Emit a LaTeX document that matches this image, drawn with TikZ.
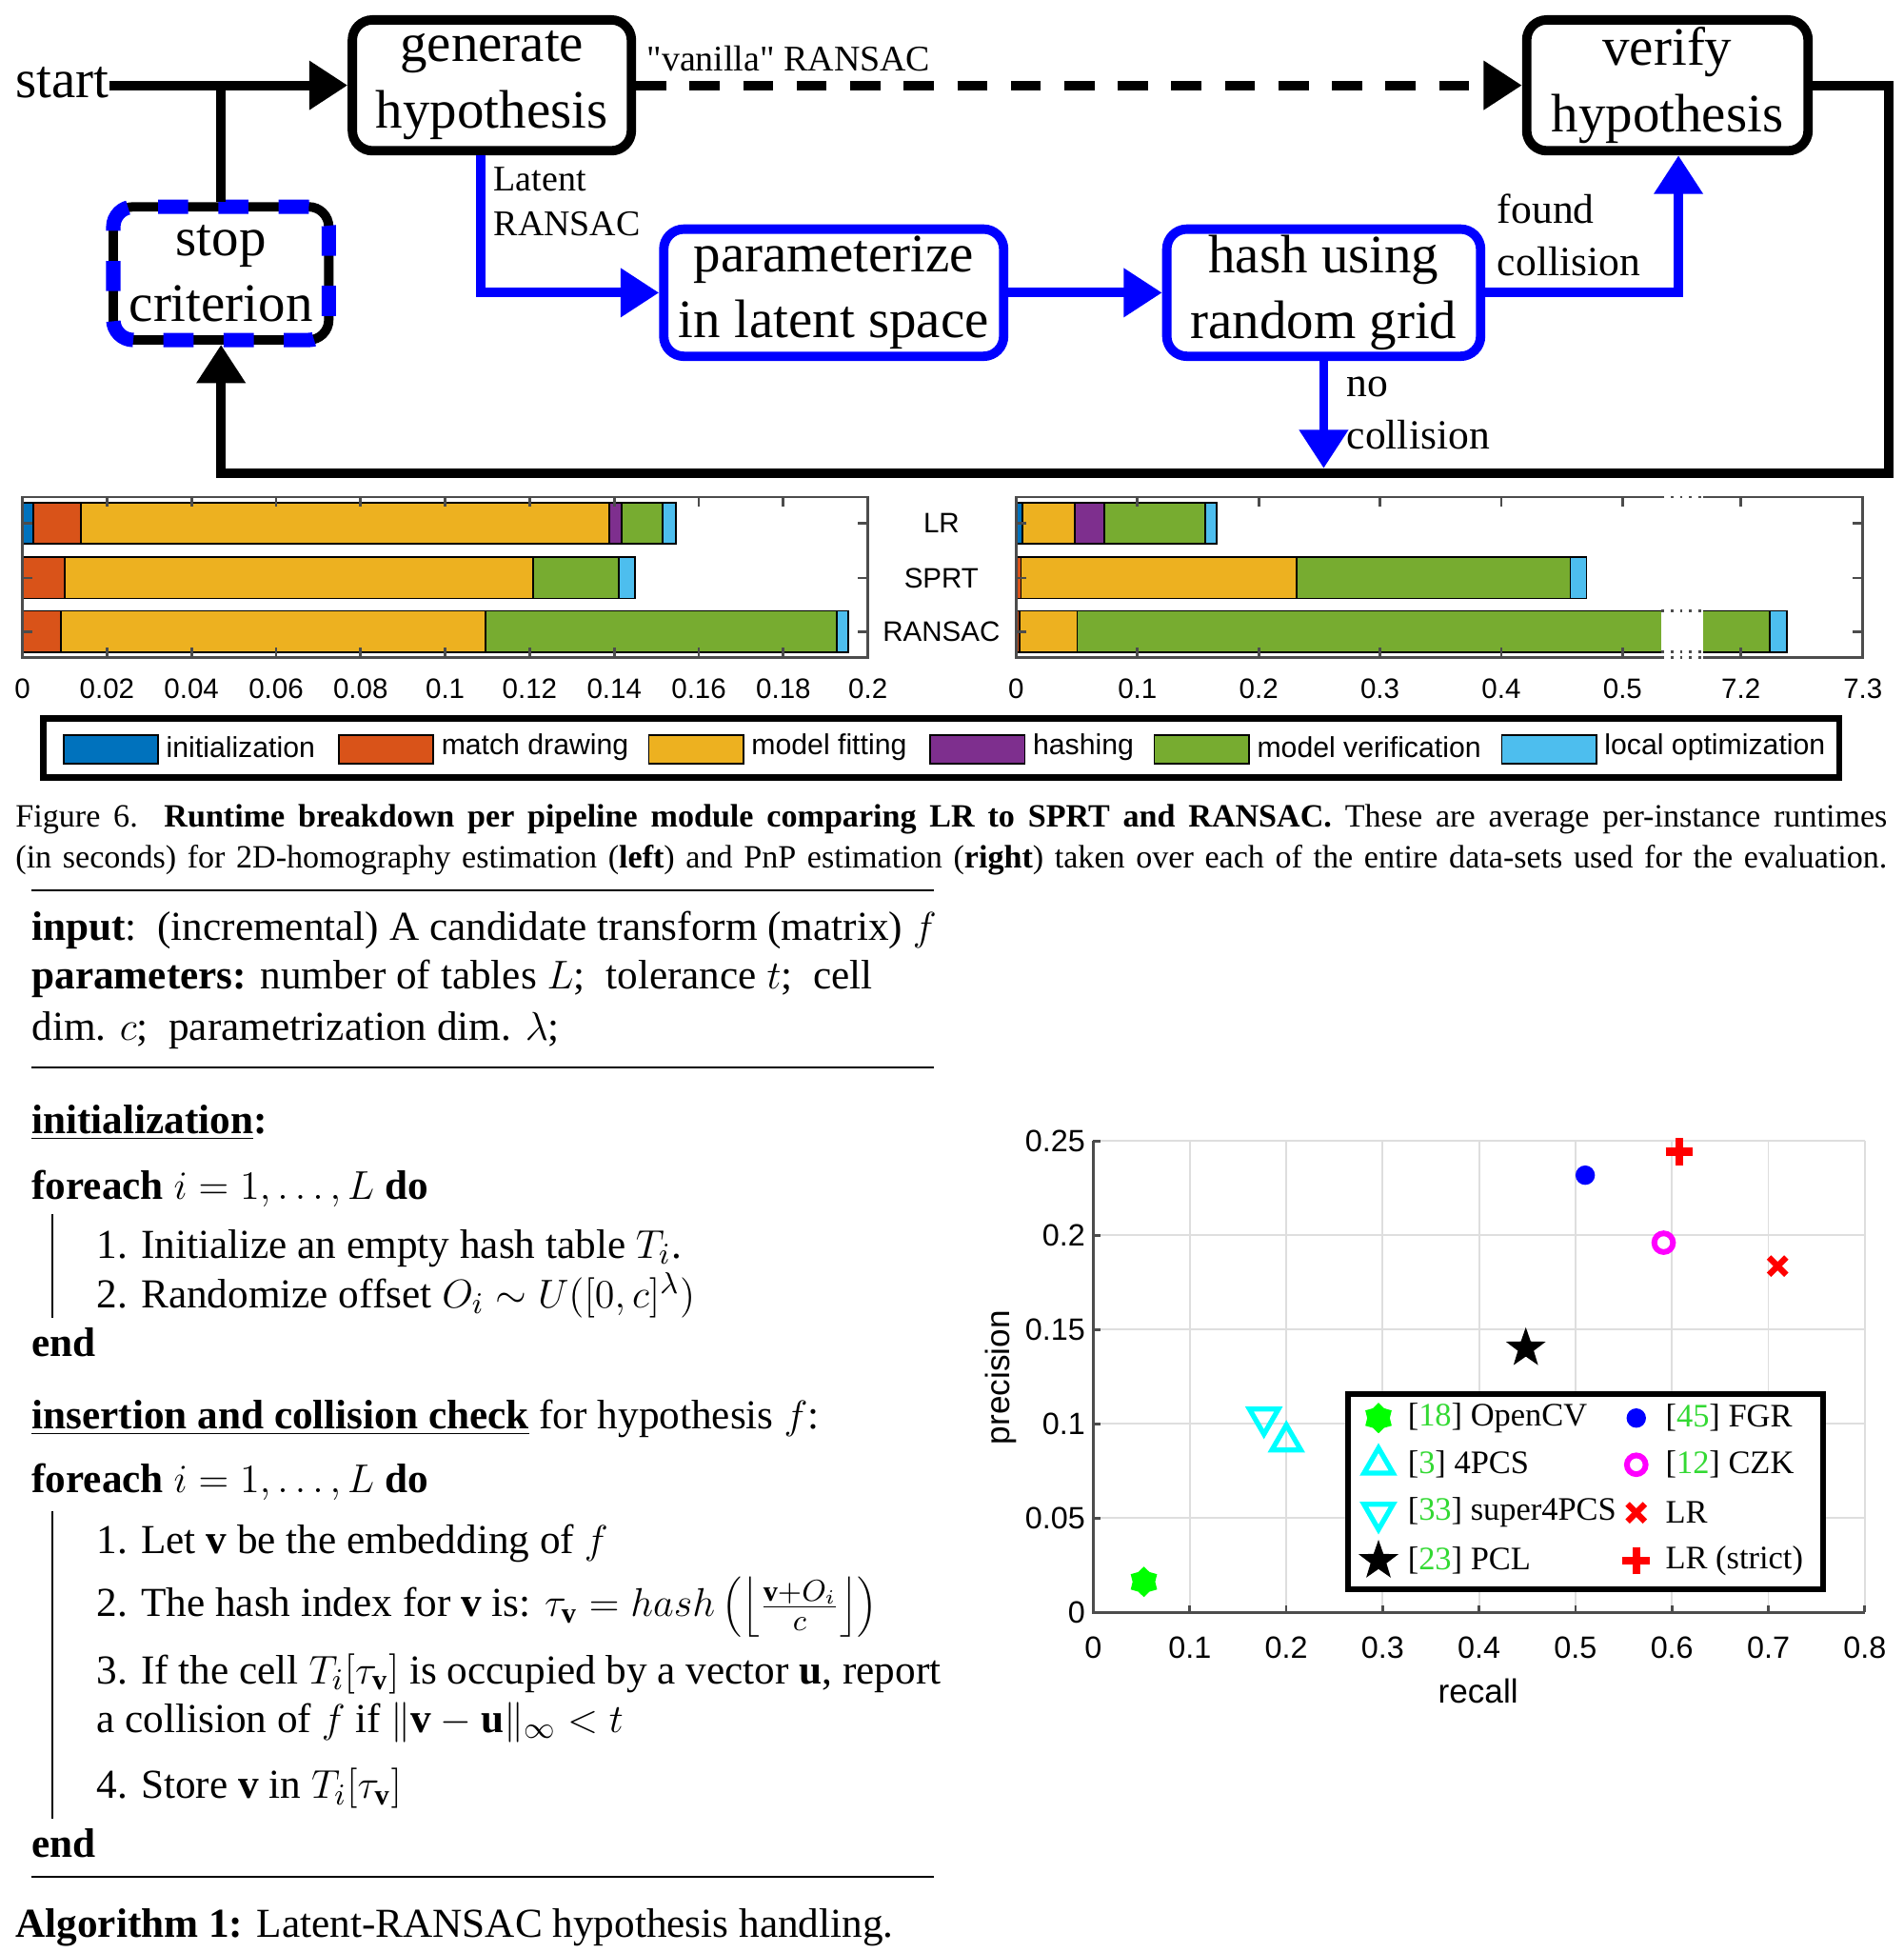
\documentclass[tikz,border=0pt]{standalone}
\usepackage{fontspec}
\setmainfont{Liberation Serif}
\setsansfont{Liberation Sans}
\usepackage{tikz}
\usetikzlibrary{positioning,shapes,calc,arrows.meta}

\definecolor{initblue}{rgb}{0,0.447,0.741}
\definecolor{matchred}{rgb}{0.850,0.325,0.098}
\definecolor{fityellow}{rgb}{0.929,0.694,0.125}
\definecolor{hashpurple}{rgb}{0.494,0.184,0.556}
\definecolor{vergreen}{rgb}{0.466,0.674,0.188}
\definecolor{locyan}{rgb}{0.301,0.745,0.933}
\definecolor{flowblue}{rgb}{0,0,1}
\definecolor{citegreen}{rgb}{0.2,0.85,0.2}
\definecolor{axisgray}{rgb}{0.3,0.3,0.3}
\definecolor{gridgray}{rgb}{0.87,0.87,0.87}
\definecolor{mkgreen}{rgb}{0,1,0}
\definecolor{mkcyan}{rgb}{0,1,1}
\definecolor{mkblue}{rgb}{0,0,1}
\definecolor{mkmagenta}{rgb}{1,0,1}
\definecolor{mkred}{rgb}{1,0,0}

\newcommand\flowfont{\fontsize{16.2pt}{19.7pt}\selectfont}
\newcommand\smlfont{\fontsize{10.8pt}{13.4pt}\selectfont}
\newcommand\edgefont{\fontsize{12.4pt}{15.6pt}\selectfont}
\newcommand\barfont{\sffamily\fontsize{8.4pt}{10pt}\selectfont}
\newcommand\plotfont{\sffamily\fontsize{9.2pt}{11pt}\selectfont}
\newcommand\axfont{\sffamily\fontsize{10pt}{12pt}\selectfont}
\newcommand\keyfont{\fontsize{9.8pt}{12pt}\selectfont}
\newcommand\capfont{\fontsize{9.7pt}{12.3pt}\selectfont}
\newcommand\algfont{\fontsize{12.3pt}{15pt}\selectfont}

\begin{document}
\begin{tikzpicture}[x=0.3722pt,y=-0.3722pt,
    procbox/.style={draw,line width=2.8pt,rounded corners=6pt,align=center,inner sep=0pt,font=\flowfont,fill=white},
    blueproc/.style={procbox,draw=flowblue},
    blackline/.style={line width=2.9pt},
    blueline/.style={line width=2.8pt,draw=flowblue},
    tip/.style={-{Triangle[length=11.5pt,width=14pt]}},
    barseg/.style={draw=black,line width=0.5pt},
    axisline/.style={draw=axisgray,line width=0.8pt},
    barlbl/.style={font=\barfont,inner sep=0pt},
    gridline/.style={draw=gridgray,line width=0.5pt},
    plotlbl/.style={font=\plotfont,inner sep=0pt},
    keytext/.style={font=\keyfont,anchor=west,inner sep=0pt},
    algline/.style={anchor=base west,inner sep=0pt,font=\algfont},
    algbar/.style={line width=0.6pt},
    hexmark/.style={star,star points=6,star point ratio=1.35,fill=mkgreen,draw=mkgreen,line width=0.8pt,inner sep=0pt,minimum size=8pt},
    uptri/.style={regular polygon,regular polygon sides=3,draw=mkcyan,line width=1.5pt,inner sep=0pt,minimum size=10pt},
    downtri/.style={uptri,shape border rotate=180},
    pclstar/.style={star,star points=5,star point ratio=2.5,fill=black,inner sep=0pt,minimum size=12.5pt},
    fgrdot/.style={circle,fill=mkblue,inner sep=0pt,minimum size=5.8pt},
    czkring/.style={circle,draw=mkmagenta,line width=1.7pt,inner sep=0pt,minimum size=5.6pt},
    lrcross/.style={cross out,draw=mkred,line width=1.8pt,inner sep=0pt,minimum size=3.4pt},
    lrplus/.style={lrcross,rotate=45,line width=2.4pt,minimum size=3.4pt}]
\useasboundingbox (0,0) rectangle (1529,1568);

\node[font=\flowfont,inner sep=0pt] (start) at (50,66) {start};
\node[procbox,minimum width=83.4pt,minimum height=39.1pt] (gen) at (395,68.5) {generate\\hypothesis};
\node[procbox,minimum width=84.1pt,minimum height=39.1pt] (ver) at (1339,68.5) {verify\\hypothesis};
\node[procbox,minimum width=64.4pt,minimum height=39.8pt,
      postaction={draw=flowblue,line width=4.3pt,dash pattern=on 9pt off 9pt}] (stop) at (177.5,219.5) {stop\\criterion};
\node[blueproc,minimum width=101.6pt,minimum height=38pt] (prm) at (669.5,235) {parameterize\\in latent space};
\node[blueproc,minimum width=93.8pt,minimum height=38pt] (hsh) at (1063,235) {hash using\\random grid};
\coordinate (jn) at (177.5,68.5);
\coordinate (rc) at (1517,380);
\coordinate (nc) at (1063,376);

\draw[blackline,tip] (start.east |- gen.west) -- (gen.west);
\draw[blackline] (stop.north) -- (jn);
\draw[blackline,tip,dash pattern=on 9pt off 7pt] (gen.east) -- (ver.west);
\draw[blackline,tip] (ver.east) -| (rc) -| (stop.south);
\draw[blueline,tip] ([xshift=-3.3pt]gen.south) |- (prm.west);
\draw[blueline,tip] (prm.east) -- (hsh.west);
\draw[blueline,tip] (hsh.east) -| ([xshift=3.3pt]ver.south);
\draw[blueline,tip] (hsh.south) -- (nc);

\node[font=\smlfont,anchor=west,inner sep=0pt] (vlab) at (519,47) {\textquotedbl vanilla\textquotedbl{} RANSAC};
\node[font=\smlfont,anchor=west,align=left,inner sep=0pt] (llab) at (396,162) {Latent\\RANSAC};
\node[font=\edgefont,anchor=west,align=left,inner sep=0pt] (flab) at (1202,189) {found\\collision};
\node[font=\edgefont,anchor=west,align=left,inner sep=0pt] (nlab) at (1081,332) {no\\collision};

\foreach \a/\b/\c/\r in {18/27/initblue/420,27/65/matchred/420,65/489/fityellow/420,489/499/hashpurple/420,499/532/vergreen/420,532/543/locyan/420,
    18/52/matchred/464,52/428/fityellow/464,428/497/vergreen/464,497/510/locyan/464,
    18/49/matchred/507,49/390/fityellow/507,390/672/vergreen/507,672/681/locyan/507,
    816/821/initblue/420,821/863/fityellow/420,863/887/hashpurple/420,887/968/vergreen/420,968/977/locyan/420,
    816/820/matchred/464,820/1041/fityellow/464,1041/1261/vergreen/464,1261/1274/locyan/464,
    816/819/matchred/507,819/865/fityellow/507,865/1421/vergreen/507,1421/1435/locyan/507}
  \draw[barseg,fill=\c] (\a,\r-16.5) rectangle (\b,\r+16.5);
\draw[axisline] (18,399) rectangle (697,528);
\draw[axisline] (816,399) rectangle (1496,528);
\foreach \i/\t in {0/0,1/0.02,2/0.04,3/0.06,4/0.08,5/0.1,6/0.12,7/0.14,8/0.16,9/0.18,10/0.2} {
  \draw[axisline] (18+\i*67.9,399) -- (18+\i*67.9,407) (18+\i*67.9,528) -- (18+\i*67.9,520);
  \node[barlbl] (lx\i) at (18+\i*67.9,553) {\t};
}
\foreach \i/\xx/\t in {0/816/0,1/913.4/0.1,2/1010.8/0.2,3/1108.2/0.3,4/1205.6/0.4,5/1303/0.5,6/1398/7.2,7/1496/7.3} {
  \draw[axisline] (\xx,399) -- (\xx,407) (\xx,528) -- (\xx,520);
  \node[barlbl] (rx\i) at (\xx,553) {\t};
}
\foreach \r in {420,464,507}
  \draw[axisline] (18,\r) -- (26,\r) (697,\r) -- (689,\r) (816,\r) -- (824,\r) (1496,\r) -- (1488,\r);
\fill[white] (1334,396) rectangle (1368,531);
\draw[axisline,dotted] (1334,399) -- (1368,399) (1334,528) -- (1368,528) (1334,490.5) -- (1368,490.5) (1334,523.5) -- (1368,523.5);
\node[barlbl] (blr) at (756,420) {LR};
\node[barlbl] (bsp) at (756,464) {SPRT};
\node[barlbl] (bra) at (756,507) {RANSAC};

\draw[line width=1.9pt] (35,577) rectangle (1477,624);
\foreach \a/\c/\t/\n in {51/initblue/initialization/ki,272/matchred/match drawing/km,521/fityellow/model fitting/kf,
    747/hashpurple/hashing/kh,927/vergreen/model verification/kv,1206/locyan/local optimization/kl} {
  \draw[barseg,fill=\c] (\a,590) rectangle (\a+76,613);
  \node[barlbl,font=\sffamily\fontsize{8.6pt}{10pt}\selectfont,anchor=west] (\n) at (\a+82,600) {\t};
}

\node[anchor=base west,inner sep=0pt,font=\capfont] (cap1) at (12,664) {\makebox[559.4pt][s]{Figure 6.\ \ \textbf{Runtime breakdown per pipeline module comparing LR to SPRT and RANSAC.} These are average per-instance runtimes}};
\node[anchor=base west,inner sep=0pt,font=\capfont] (cap2) at (12,697) {\makebox[559.4pt][s]{(in seconds) for 2D-homography estimation (\textbf{left}) and PnP estimation (\textbf{right}) taken over each of the entire data-sets used for the evaluation.}};

\draw[algbar] (25,715) -- (750,715) (25,857) -- (750,857) (25,1507) -- (750,1507);
\node[algline] (ainp) at (25,755) {\textbf{input}:\ \ (incremental) A candidate transform (matrix) $f$};
\node[algline] (apar) at (25,794) {\textbf{parameters:} number of tables $L$;\ \ tolerance $t$;\ \ cell};
\node[algline] (adim) at (25,835) {dim. $c$;\ \ parametrization dim. $\lambda$;};
\node[algline] (aini) at (25,910) {\underline{\textbf{initialization}}\textbf{:}};
\node[algline] (afa) at (25,963) {\textbf{foreach} $i=1,\dots,L$ \textbf{do}};
\node[algline] (aia) at (77,1010) {1. Initialize an empty hash table $T_i$.};
\node[algline] (aib) at (77,1050) {2. Randomize offset $O_i\sim U([0,c]^\lambda)$};
\node[algline] (aea) at (25,1089) {\textbf{end}};
\node[algline] (ains) at (25,1147) {\underline{\textbf{insertion and collision check}} for hypothesis $f$:};
\node[algline] (afb) at (25,1198) {\textbf{foreach} $i=1,\dots,L$ \textbf{do}};
\node[algline] (asa) at (77,1247) {1. Let $\mathbf{v}$ be the embedding of $f$};
\node[algline] (asb) at (77,1298) {2. The hash index for $\mathbf{v}$ is: $\tau_{\mathbf{v}}=hash\left(\left\lfloor\frac{\mathbf{v}+O_i}{c}\right\rfloor\right)$};
\node[algline] (asc) at (77,1352) {3. If the cell $T_i[\tau_{\mathbf{v}}]$ is occupied by a vector $\mathbf{u}$, report};
\node[algline] (asd) at (77,1391) {a collision of $f$ if $\|\mathbf{v}-\mathbf{u}\|_\infty<t$};
\node[algline] (ase) at (77,1444) {4. Store $\mathbf{v}$ in $T_i[\tau_{\mathbf{v}}]$};
\node[algline] (aeb) at (25,1491) {\textbf{end}};
\draw[algbar] (42,975) -- (42,1058) (42,1213) -- (42,1460);
\node[algline] (acap) at (12,1555) {\textbf{Algorithm 1:} Latent-RANSAC hypothesis handling.};

\foreach \i in {1,...,8}
  \draw[gridline] (878+\i*77.44,1294.6) -- (878+\i*77.44,916);
\foreach \i in {1,...,5}
  \draw[gridline] (878,1294.6-\i*75.72) -- (1497.5,1294.6-\i*75.72);
\draw[axisline] (878,916) -- (878,1294.6) -- (1497.5,1294.6);
\foreach \i/\t in {0/0,1/0.1,2/0.2,3/0.3,4/0.4,5/0.5,6/0.6,7/0.7,8/0.8} {
  \draw[axisline] (878+\i*77.44,1294.6) -- (878+\i*77.44,1288.6);
  \node[plotlbl] (sx\i) at (878+\i*77.44,1323) {\t};
}
\foreach \i/\t in {0/0,1/0.05,2/0.1,3/0.15,4/0.2,5/0.25} {
  \draw[axisline] (878,1294.6-\i*75.72) -- (884,1294.6-\i*75.72);
  \node[plotlbl,anchor=east] (sy\i) at (872,1294.6-\i*75.72) {\t};
}
\node[font=\axfont,inner sep=0pt] (rec) at (1187,1358) {recall};
\node[font=\axfont,inner sep=0pt,rotate=90] (prc) at (803.6,1106) {precision};

\node[hexmark] (ocv) at (918.6,1270) {};
\node[downtri] (s4p) at (1015,1138) {};
\node[uptri] (fpc) at (1033,1157.5) {};
\node[pclstar] (pcl) at (1225.3,1082.4) {};
\node[fgrdot] (fgr) at (1273,943.5) {};
\node[czkring] (czk) at (1336,997.7) {};
\node[lrcross] (lrm) at (1427.5,1016.5) {};
\node[lrplus] (lrs) at (1348.6,924.7) {};

\filldraw[fill=white,line width=1.8pt] (1082.5,1119) rectangle (1464,1276);
\foreach \m/\y/\t/\n in {hexmark/1138.5/{[{\color{citegreen}18}] OpenCV}/ka,uptri/1176/{[{\color{citegreen}3}] 4PCS}/kb,
    downtri/1214.5/{[{\color{citegreen}33}] super4PCS}/kc,pclstar/1253/{[{\color{citegreen}23}] PCL}/kd} {
  \node[\m] (m\n) at (1107,\y) {};
  \node[keytext] (t\n) at (1130,\y) {\t};
}
\foreach \m/\y/\t/\n in {fgrdot/1138.5/{[{\color{citegreen}45}] FGR}/ke,czkring/1176/{[{\color{citegreen}12}] CZK}/kf,
    lrcross/1214.5/{LR}/kg,lrplus/1253/{LR (strict)}/kh} {
  \node[\m] (m\n) at (1314,\y) {};
  \node[keytext] (t\n) at (1337,\y) {\t};
}
\end{tikzpicture}
\end{document}
